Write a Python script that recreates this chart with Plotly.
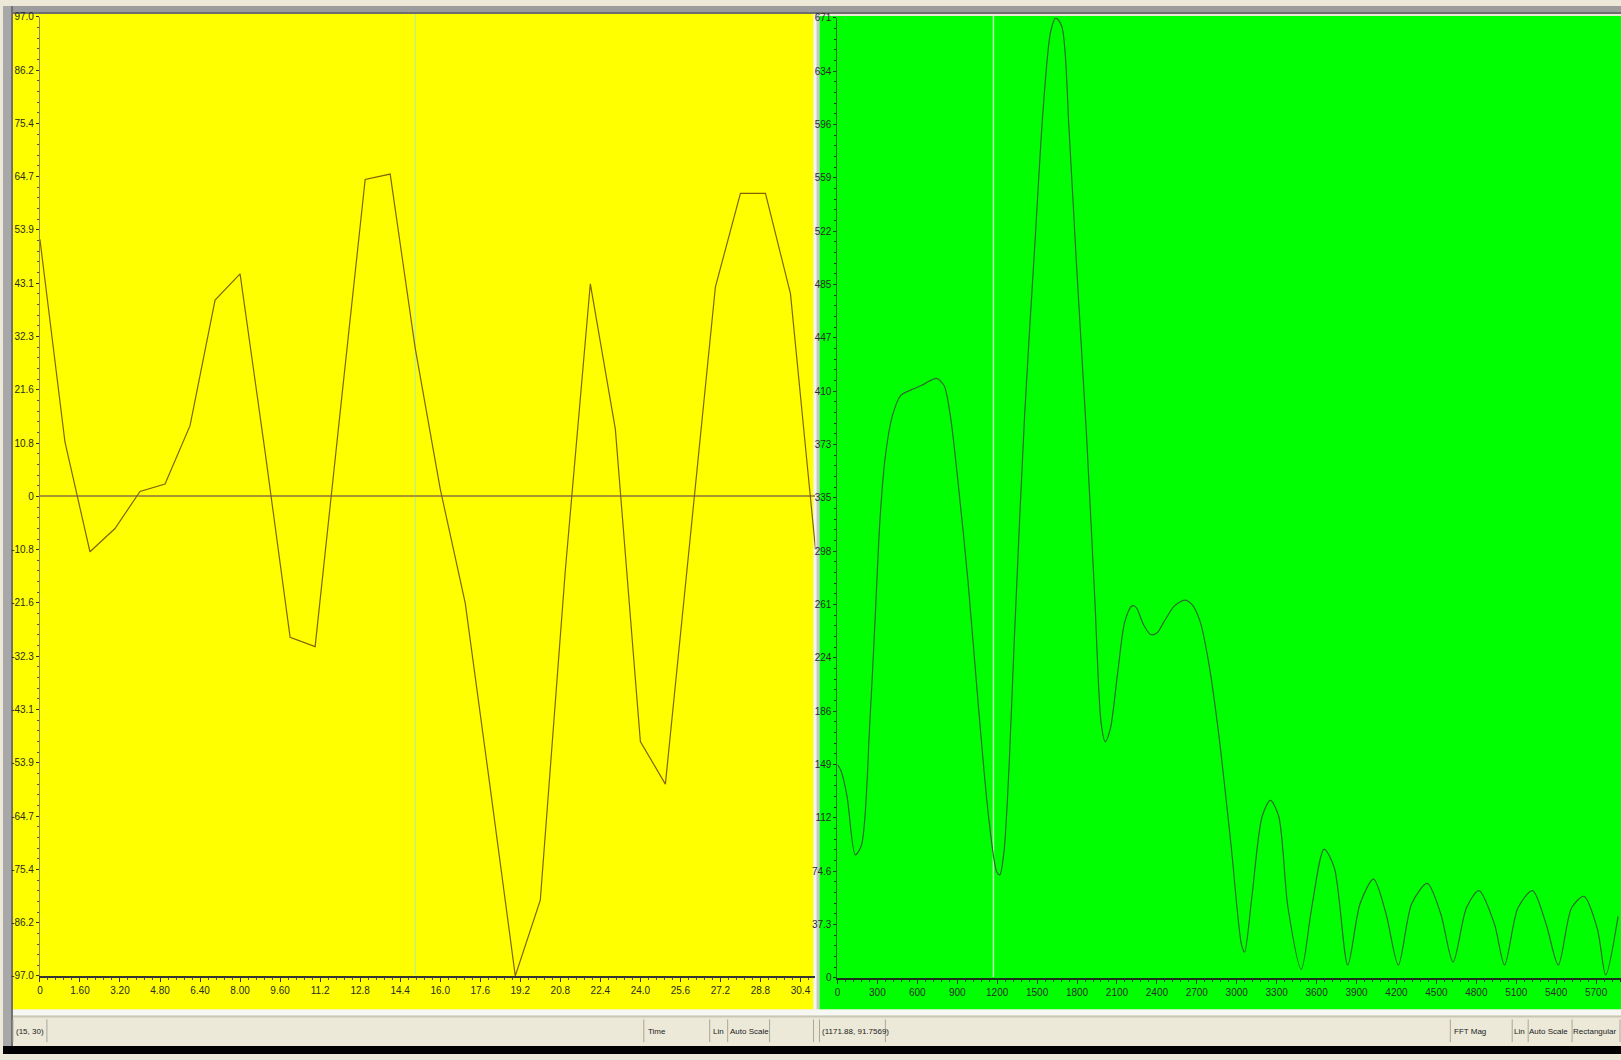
import plotly.graph_objects as go

W, H = 1621, 1060

# ---------------- data ----------------
time_x = list(range(32))
time_y = [52, 11, -11.2, -6.5, 1, 2.5, 14.3, 39.7, 45, 9, -28.5, -30.4, 17, 64.1, 65.2, 30,
          1.5, -21.6, -59, -97, -81.7, -15, 43, 13.6, -49.6, -58.2, -8, 42.4, 61.3, 61.3, 41, -10.7]

freq = [0, 26, 72, 134, 181, 243, 282, 320, 359, 413, 475, 553, 630, 708, 747, 801, 848, 902,
        980, 1057, 1135, 1197, 1220, 1251, 1290, 1328, 1406, 1484, 1546, 1601, 1640, 1686, 1740,
        1795, 1872, 1934, 1981, 2012, 2050, 2105, 2159, 2213, 2244, 2299, 2353, 2400, 2454, 2532,
        2609, 2663, 2725, 2788, 2865, 2958, 3036, 3059, 3113, 3191, 3253, 3315, 3385, 3485, 3563,
        3656, 3733, 3834, 3927, 4028, 4121, 4214, 4315, 4431, 4532, 4625, 4726, 4819, 4935, 5012,
        5113, 5222, 5323, 5416, 5516, 5609, 5710, 5772, 5865]
mag = [149, 145, 127, 86, 93, 178, 249, 321, 364, 393, 407, 411, 414, 418, 419, 414, 393, 350,
       278, 192, 113, 74, 72, 88, 149, 235, 393, 514, 608, 661, 671, 665, 593,
       500, 378, 264, 178, 165, 174, 213, 249, 260, 259, 247, 240, 241, 249, 260,
       264, 261, 249, 221, 170, 92, 23, 18, 56, 113, 124, 113, 49, 6, 49,
       90, 77, 9, 52, 69, 45, 9, 52, 66, 45, 11, 49, 61, 38, 9,
       49, 61, 38, 9, 49, 57, 34, 2, 43]

time_tickvals = [0, 1.6, 3.2, 4.8, 6.4, 8.0, 9.6, 11.2, 12.8, 14.4, 16.0, 17.6, 19.2, 20.8,
                 22.4, 24.0, 25.6, 27.2, 28.8, 30.4]
time_ticktext = ["0", "1.60", "3.20", "4.80", "6.40", "8.00", "9.60", "11.2", "12.8", "14.4",
                 "16.0", "17.6", "19.2", "20.8", "22.4", "24.0", "25.6", "27.2", "28.8", "30.4"]
amp_tickvals = [-97.0, -86.22, -75.44, -64.67, -53.89, -43.11, -32.33, -21.56, -10.78, 0,
                10.78, 21.56, 32.33, 43.11, 53.89, 64.67, 75.44, 86.22, 97.0]
amp_ticktext = ["-97.0", "-86.2", "-75.4", "-64.7", "-53.9", "-43.1", "-32.3", "-21.6", "-10.8", "0",
                "10.8", "21.6", "32.3", "43.1", "53.9", "64.7", "75.4", "86.2", "97.0"]
freq_tickvals = [0, 300, 600, 900, 1200, 1500, 1800, 2100, 2400, 2700, 3000, 3300, 3600, 3900,
                 4200, 4500, 4800, 5100, 5400, 5700]
freq_ticktext = ["0", "300", "600", "900", "1200", "1500", "1800", "2100", "2400", "2700", "3000",
                 "3300", "3600", "3900", "4200", "4500", "4800", "5100", "5400", "5700"]
mag_tickvals = [0, 37.28, 74.56, 111.83, 149.11, 186.39, 223.67, 260.94, 298.22, 335.5, 372.78,
                410.06, 447.33, 484.61, 521.89, 559.17, 596.44, 633.72, 671]
mag_ticktext = ["0", "37.3", "74.6", "112", "149", "186", "224", "261", "298", "335", "373",
                "410", "447", "485", "522", "559", "596", "634", "671"]

time_cursor = [15]
freq_cursor = [1171.88]
status_left = ["(15, 30)", "Time", "Lin", "Auto Scale"]
status_right = ["(1171.88, 91.7569)", "FFT Mag", "Lin", "Auto Scale", "Rectangular"]


def fx(px):
    return px / W


def fy(py):
    return 1 - py / H


TICKFONT = dict(family="Liberation Sans Narrow, Arial Narrow, Liberation Sans, sans-serif",
                size=10, color="#2a2a2a")
STATFONT = dict(family="Liberation Sans Narrow, Liberation Sans, sans-serif", size=8, color="#222")

fig = go.Figure()
fig.add_trace(go.Scatter(x=time_x, y=time_y, mode="lines", xaxis="x", yaxis="y",
                         line=dict(color="#846200", width=1.2), showlegend=False, hoverinfo="skip"))
fig.add_trace(go.Scatter(x=freq, y=mag, mode="lines", xaxis="x2", yaxis="y2",
                         line=dict(color="#2E6A2E", width=1.2, shape="spline", smoothing=0.8),
                         showlegend=False, hoverinfo="skip"))

shapes = []


def rect(x0, y0, x1, y1, fill, line=None, lw=0, layer="below"):
    shapes.append(dict(type="rect", xref="paper", yref="paper", x0=fx(x0), x1=fx(x1),
                       y0=fy(y1), y1=fy(y0), fillcolor=fill,
                       line=dict(color=line or fill, width=lw), layer=layer))


# frame & panels
rect(0, 0, W, H, "#ECE9D8")
rect(0, 0, W, 8, "#9C9C9C")
rect(0, 6, W, 8, "#6E6E6E")
rect(0, 0, 10, 1052, "#A8A8A8")
rect(8, 0, 10, 1052, "#707070")
rect(10, 8, 812, 1015, "#FFFF00")
rect(812, 8, 818, 1015, "#F4F4F0")
rect(815, 8, 818, 1015, "#C8C8C8")
rect(818, 10, W, 1015, "#00FF00")
rect(10, 1015, W, 1021, "#F6F6F2")
rect(10, 1021, W, 1023, "#C9C6B8")
rect(0, 1052, W, H, "#000000")

# status field separators
for xs in [10, 44, 642, 708, 726, 768, 812, 818, 884, 1450, 1512, 1528, 1572, 1620]:
    shapes.append(dict(type="line", xref="paper", yref="paper", x0=fx(xs), x1=fx(xs),
                       y0=fy(1048), y1=fy(1025), line=dict(color="#A9A69A", width=1), layer="below"))

# cursors
shapes.append(dict(type="line", xref="x", yref="paper", x0=time_cursor[0], x1=time_cursor[0],
                   y0=fy(980), y1=fy(8), line=dict(color="#C8F078", width=1.5), layer="below"))
shapes.append(dict(type="line", xref="x2", yref="paper", x0=freq_cursor[0], x1=freq_cursor[0],
                   y0=fy(982), y1=fy(10), line=dict(color="#C0FFB0", width=1.5), layer="below"))

annotations = []


def text(t, xpx, ypx, anchor="left"):
    annotations.append(dict(text=t, x=fx(xpx), y=fy(ypx), xref="paper", yref="paper",
                            showarrow=False, xanchor=anchor, yanchor="middle", font=STATFONT,
                            borderpad=0))


text(status_left[0], 12, 1037)
text(status_left[1], 645, 1037)
text(status_left[2], 710, 1037)
text(status_left[3], 727, 1037)
text(status_right[0], 820, 1037)
text(status_right[1], 1453, 1037)
text(status_right[2], 1513, 1037)
text(status_right[3], 1528, 1037)
text(status_right[4], 1572, 1037)

common_axis = dict(showgrid=False, ticks="outside", tickcolor="#333", tickfont=TICKFONT,
                   tickmode="array", fixedrange=True)

fig.update_layout(
    width=W, height=H, margin=dict(l=0, r=0, t=0, b=0),
    paper_bgcolor="#ECE9D8", plot_bgcolor="rgba(0,0,0,0)",
    shapes=shapes, annotations=annotations, showlegend=False,
    xaxis=dict(domain=[fx(37), fx(814)], range=[0, 31], anchor="y",
               tickvals=time_tickvals, ticktext=time_ticktext, zeroline=False,
               showline=True, linecolor="#333", linewidth=2, ticklen=4,
               minor=dict(ticks="outside", ticklen=2, dtick=0.32, tick0=0, tickcolor="#555"),
               **common_axis),
    yaxis=dict(domain=[fy(981), fy(11)], range=[-97, 97], anchor="x",
               tickvals=amp_tickvals, ticktext=amp_ticktext,
               zeroline=True, zerolinecolor="#A8962E", zerolinewidth=2,
               showline=True, linecolor="#8a8a40", linewidth=1, ticklen=3,
               minor=dict(ticks="outside", ticklen=2, dtick=2.156, tick0=0, tickcolor="#555"),
               **common_axis),
    xaxis2=dict(domain=[fx(836), 1.0], range=[0, 5887], anchor="y2",
                tickvals=freq_tickvals, ticktext=freq_ticktext, zeroline=False,
                showline=True, linecolor="#1a331a", linewidth=2, ticklen=4,
                minor=dict(ticks="outside", ticklen=2, dtick=60, tick0=0, tickcolor="#234"),
                **common_axis),
    yaxis2=dict(domain=[fy(983), fy(12)], range=[0, 671], anchor="x2",
                tickvals=mag_tickvals, ticktext=mag_ticktext, zeroline=False,
                showline=True, linecolor="#2a6a2a", linewidth=1, ticklen=3,
                minor=dict(ticks="outside", ticklen=2, dtick=7.456, tick0=0, tickcolor="#234"),
                **common_axis),
)

fig.write_html("out.html")
